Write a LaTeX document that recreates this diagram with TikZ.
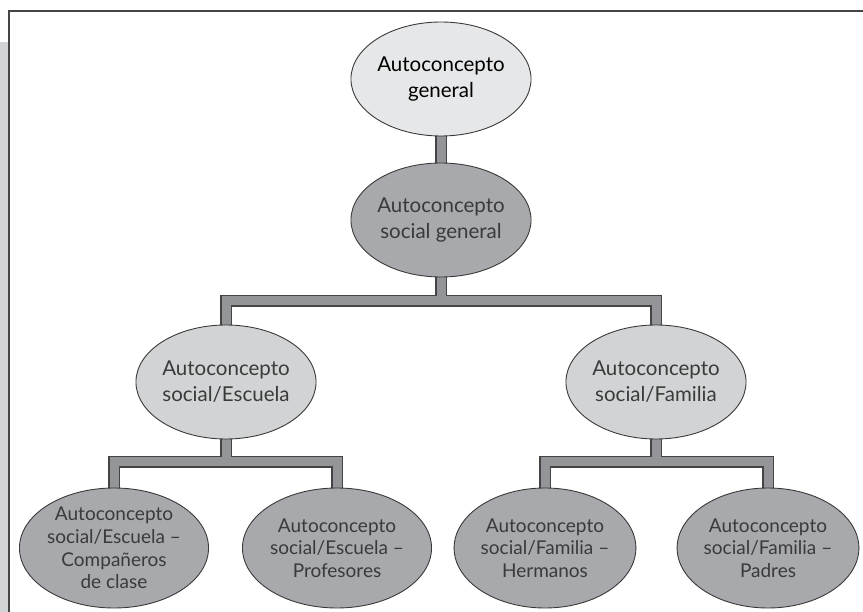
\documentclass[tikz,border=0pt]{standalone}
\usepackage{fontspec}
\setmainfont{Lato}
\usepackage{xcolor}
\usepackage{tikz}
\usetikzlibrary{shapes.geometric,backgrounds}
\definecolor{ACFrame}{HTML}{444444}
\definecolor{ACStrip}{HTML}{D1D3D4}
\definecolor{ACPale}{HTML}{E6E7E8}
\definecolor{ACLight}{HTML}{D1D3D4}
\definecolor{ACMid}{HTML}{A7A9AC}
\definecolor{ACBar}{HTML}{939598}
\definecolor{ACText}{HTML}{3A3A3A}
\tikzset{
  conceptnode/.style={ellipse,draw=ACFrame,line width=0.9pt,inner sep=0pt,
    minimum width=164pt,minimum height=114pt,align=center,ACText,
    font=\fontsize{20.5}{26}\selectfont},
  rootnode/.style={conceptnode,fill=ACPale,text=black},
  midnode/.style={conceptnode,fill=ACMid},
  lightnode/.style={conceptnode,fill=ACLight},
  leafnode/.style={conceptnode,fill=ACMid,minimum width=162pt,minimum height=120pt,
    font=\fontsize{19}{22.7}\selectfont},
  barout/.style={draw=ACFrame,line width=12pt},
  barin/.style={draw=ACBar,line width=9pt}
}
\begin{document}
\begin{tikzpicture}[x=1pt,y=-1pt]
        \useasboundingbox (0,0) rectangle (863,612);
        % frame
        \fill[ACStrip] (0,42) rectangle (8,612);
        \draw[ACFrame,line width=2pt] (863,11) -- (9,11) -- (9,612);
        % junctions
        \coordinate (j1) at (441,301);
        \coordinate (j2) at (226,462);
        \coordinate (j3) at (656,462);
        % nodes
        \path
          (441,79) node[rootnode] (gen) {Autoconcepto\\general}
          (441,220) node[midnode] (soc) {Autoconcepto\\social general}
          (226,382) node[lightnode] (esc) {Autoconcepto\\social/Escuela}
          (656,382) node[lightnode] (fam) {Autoconcepto\\social/Familia}
          (114,548) node[leafnode] (comp) {Autoconcepto\\social/Escuela –\\Compañeros\\de clase}
          (337,548) node[leafnode] (prof) {Autoconcepto\\social/Escuela –\\Profesores}
          (545,548) node[leafnode] (herm) {Autoconcepto\\social/Familia –\\Hermanos}
          (768,548) node[leafnode] (padr) {Autoconcepto\\social/Familia –\\Padres};
        % connectors behind the nodes
        \begin{scope}[on background layer]
        \foreach \bar in {barout,barin}{
          \draw[\bar] (gen.south) -- (soc.north);
          \draw[\bar] (soc.south) -- (j1);
          \draw[\bar] (esc.north) |- (j1) -| (fam.north);
          \draw[\bar] (esc.south) -- (j2);
          \draw[\bar] (comp.north) |- (j2) -| (prof.north);
          \draw[\bar] (fam.south) -- (j3);
          \draw[\bar] (herm.north) |- (j3) -| (padr.north);
        }
        \end{scope}
      \end{tikzpicture}
\end{document}
